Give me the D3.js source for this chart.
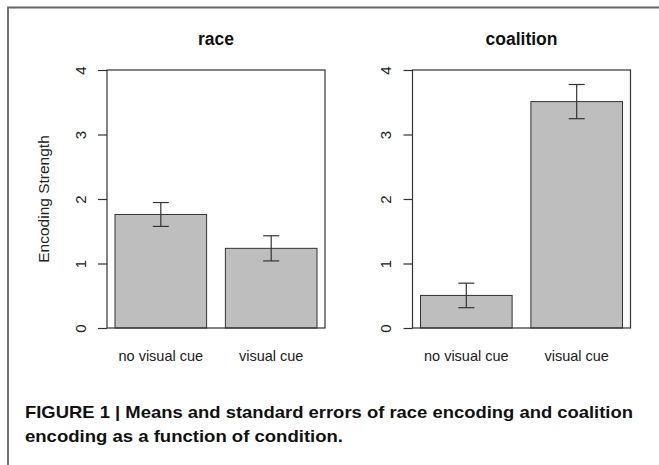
<!DOCTYPE html>
<html>
<head>
<meta charset="utf-8">
<script src="https://cdn.jsdelivr.net/npm/d3@7"></script>
<style>
  body { margin: 0; background: #fff; }
  svg { display: block; font-family: "Liberation Sans", Arial, sans-serif; }
</style>
</head>
<body>
<div id="chart"></div>
<script>
// data
const conditions = ["no visual cue", "visual cue"];
const panels = ["race", "coalition"];
const raceMeans = [1.76, 1.235];
const raceSE = [0.185, 0.195];
const coalitionMeans = [0.505, 3.51];
const coalitionSE = [0.19, 0.265];
const yTicks = [0, 1, 2, 3, 4];
const captionLines = [
  "FIGURE 1 | Means and standard errors of race encoding and coalition",
  "encoding as a function of condition."
];

const width = 659, height = 465;
const svg = d3.select("#chart").append("svg")
  .attr("width", width)
  .attr("height", height);

// outer frame (open on the right/bottom, cropped)
svg.append("path")
  .attr("d", `M8,${height} V7.5 H${width}`)
  .attr("fill", "none")
  .attr("stroke", "#666")
  .attr("stroke-width", 1.8);

const y = d3.scaleLinear().domain([0, 4]).range([328, 70]);

const panelBoxes = [
  { left: 107, right: 325, means: raceMeans, se: raceSE },
  { left: 412.5, right: 630.5, means: coalitionMeans, se: coalitionSE }
];

panelBoxes.forEach((p, i) => {
  const g = svg.append("g");
  const x = d3.scaleBand()
    .domain(conditions)
    .range([p.left + 8, p.right - 8])
    .paddingInner(0.17);
  const cx = d => x(d) + x.bandwidth() / 2;

  // bars
  g.selectAll("rect.bar")
    .data(conditions)
    .enter().append("rect")
    .attr("class", "bar")
    .attr("x", d => x(d))
    .attr("width", x.bandwidth())
    .attr("y", (d, j) => y(p.means[j]))
    .attr("height", (d, j) => y(0) - y(p.means[j]))
    .attr("fill", "#bebebe")
    .attr("stroke", "#333")
    .attr("stroke-width", 1);

  // error bars
  const eb = g.selectAll("g.err")
    .data(conditions)
    .enter().append("g")
    .attr("class", "err")
    .attr("stroke", "#333")
    .attr("stroke-width", 1.2);
  eb.append("line")
    .attr("x1", cx).attr("x2", cx)
    .attr("y1", (d, j) => y(p.means[j] + p.se[j]))
    .attr("y2", (d, j) => y(p.means[j] - p.se[j]));
  [1, -1].forEach(s => {
    eb.append("line")
      .attr("x1", d => cx(d) - 8).attr("x2", d => cx(d) + 8)
      .attr("y1", (d, j) => y(p.means[j] + s * p.se[j]))
      .attr("y2", (d, j) => y(p.means[j] + s * p.se[j]));
  });

  // plot box
  g.append("rect")
    .attr("x", p.left).attr("y", y(4))
    .attr("width", p.right - p.left).attr("height", y(0) - y(4))
    .attr("fill", "none")
    .attr("stroke", "#333")
    .attr("stroke-width", 1.2);

  // y axis, labels rotated like R's default
  const yAxis = g.append("g")
    .attr("transform", `translate(${p.left},0)`)
    .call(d3.axisLeft(y).tickValues(yTicks).tickSize(9).tickFormat(d3.format("d")));
  yAxis.select(".domain").remove();
  yAxis.attr("font-size", null).attr("font-family", null);
  yAxis.selectAll("line").attr("stroke", "#333").attr("stroke-width", 1.2);
  yAxis.selectAll("text")
    .attr("font-size", 15)
    .attr("fill", "#222")
    .attr("text-anchor", "middle")
    .attr("x", 0)
    .attr("y", 0)
    .attr("dy", null)
    .attr("dominant-baseline", "central")
    .attr("transform", "translate(-27,0) rotate(-90)");

  // x labels
  g.selectAll("text.xlab")
    .data(conditions)
    .enter().append("text")
    .attr("class", "xlab")
    .attr("x", cx)
    .attr("y", 361)
    .attr("text-anchor", "middle")
    .attr("font-size", 14.5)
    .attr("fill", "#222")
    .text(d => d);

  // title
  g.append("text")
    .attr("x", (p.left + p.right) / 2)
    .attr("y", 45)
    .attr("text-anchor", "middle")
    .attr("font-size", 17.5)
    .attr("font-weight", "bold")
    .attr("fill", "#111")
    .text(panels[i]);
});

// y axis title
svg.append("text")
  .attr("transform", `translate(49,${(y(0) + y(4)) / 2}) rotate(-90)`)
  .attr("text-anchor", "middle")
  .attr("font-size", 15.5)
  .attr("fill", "#222")
  .text("Encoding Strength");

// caption
svg.selectAll("text.caption")
  .data(captionLines)
  .enter().append("text")
  .attr("class", "caption")
  .attr("x", 25)
  .attr("y", (d, i) => 417.5 + i * 24)
  .attr("font-size", 17)
  .attr("font-weight", "bold")
  .attr("fill", "#111")
  .attr("textLength", (d, i) => i === 0 ? 608 : 318)
  .attr("lengthAdjust", "spacingAndGlyphs")
  .text(d => d);
</script>
</body>
</html>
